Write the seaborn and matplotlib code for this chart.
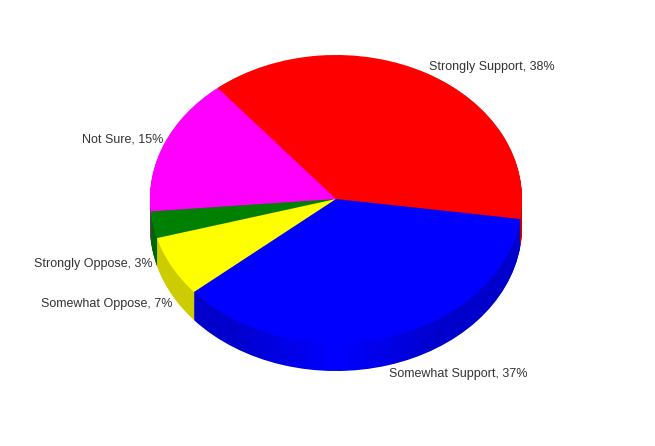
import numpy as np
import seaborn as sns
import matplotlib
matplotlib.use("Agg")
import matplotlib.pyplot as plt
from matplotlib.path import Path
from matplotlib.patches import PathPatch

# Values, counter clockwise from the right edge (labels show them rounded)
categories = ["Strongly Support", "Not Sure", "Strongly Oppose", "Somewhat Oppose", "Somewhat Support"]
values = [38.2, 15.4, 3.0, 6.8, 36.6]
slice_colors = ["#ff0000", "#ff00ff", "#008000", "#ffff00", "#0000ff"]

# Label anchors in pixels (left edge, vertical centre)
label_x = [429, 82, 34, 41, 389]
label_y = [67, 139, 264, 304, 374]

W, H = 655, 446
LEFT, RIGHT, TOP, BOTTOM = 150, 522, 55, 371
DEPTH = 28 / 144
START = -8

sns.set_style("white")
plt.rcParams["font.family"] = ["Liberation Sans", "DejaVu Sans"]

fig = plt.figure(figsize=(W / 100, H / 100), dpi=100)
ax = fig.add_axes([LEFT / W, 1 - BOTTOM / H, (RIGHT - LEFT) / W, (BOTTOM - TOP) / H])

# Side wall: stacked copies of the pie, lowest first
for offset in np.linspace(DEPTH, 0.005, 40):
    ax.pie(values, colors=slice_colors, startangle=START, counterclock=True,
           center=(0, -offset), radius=1, wedgeprops={"linewidth": 0, "zorder": 1})

# Wall shading, darker towards both sides
shade = np.zeros((1, 300, 4))
xs = np.linspace(-1, 1, 300)
shade[0, :, 3] = 0.2 * np.clip(np.abs(xs) / 0.55, 0, 1)
im = ax.imshow(shade, extent=(-1, 1, -1 - DEPTH, 1), aspect="auto", zorder=2)
lower = np.radians(np.linspace(180, 360, 200))
upper = np.radians(np.linspace(0, 180, 200))
sx = np.r_[np.cos(lower), np.cos(upper)]
sy = np.r_[np.sin(lower) - DEPTH, np.sin(upper)]
outline = PathPatch(Path(np.column_stack([sx, sy])), transform=ax.transData, fc="none", ec="none")
im.set_clip_path(outline)

# Top face
ax.pie(values, colors=slice_colors, startangle=START, counterclock=True,
       center=(0, 0), radius=1, wedgeprops={"linewidth": 0, "zorder": 3})

ax.set_aspect("auto")
ax.set_xlim(-1, 1)
ax.set_ylim(-1 - DEPTH, 1)
ax.axis("off")

for name, val, x, y in zip(categories, values, label_x, label_y):
    fig.text(x / W, 1 - y / H, f"{name}, {val:.0f}%", fontsize=9, color="#333333",
             ha="left", va="center")

fig.savefig("out.png", dpi=100, facecolor="white")
